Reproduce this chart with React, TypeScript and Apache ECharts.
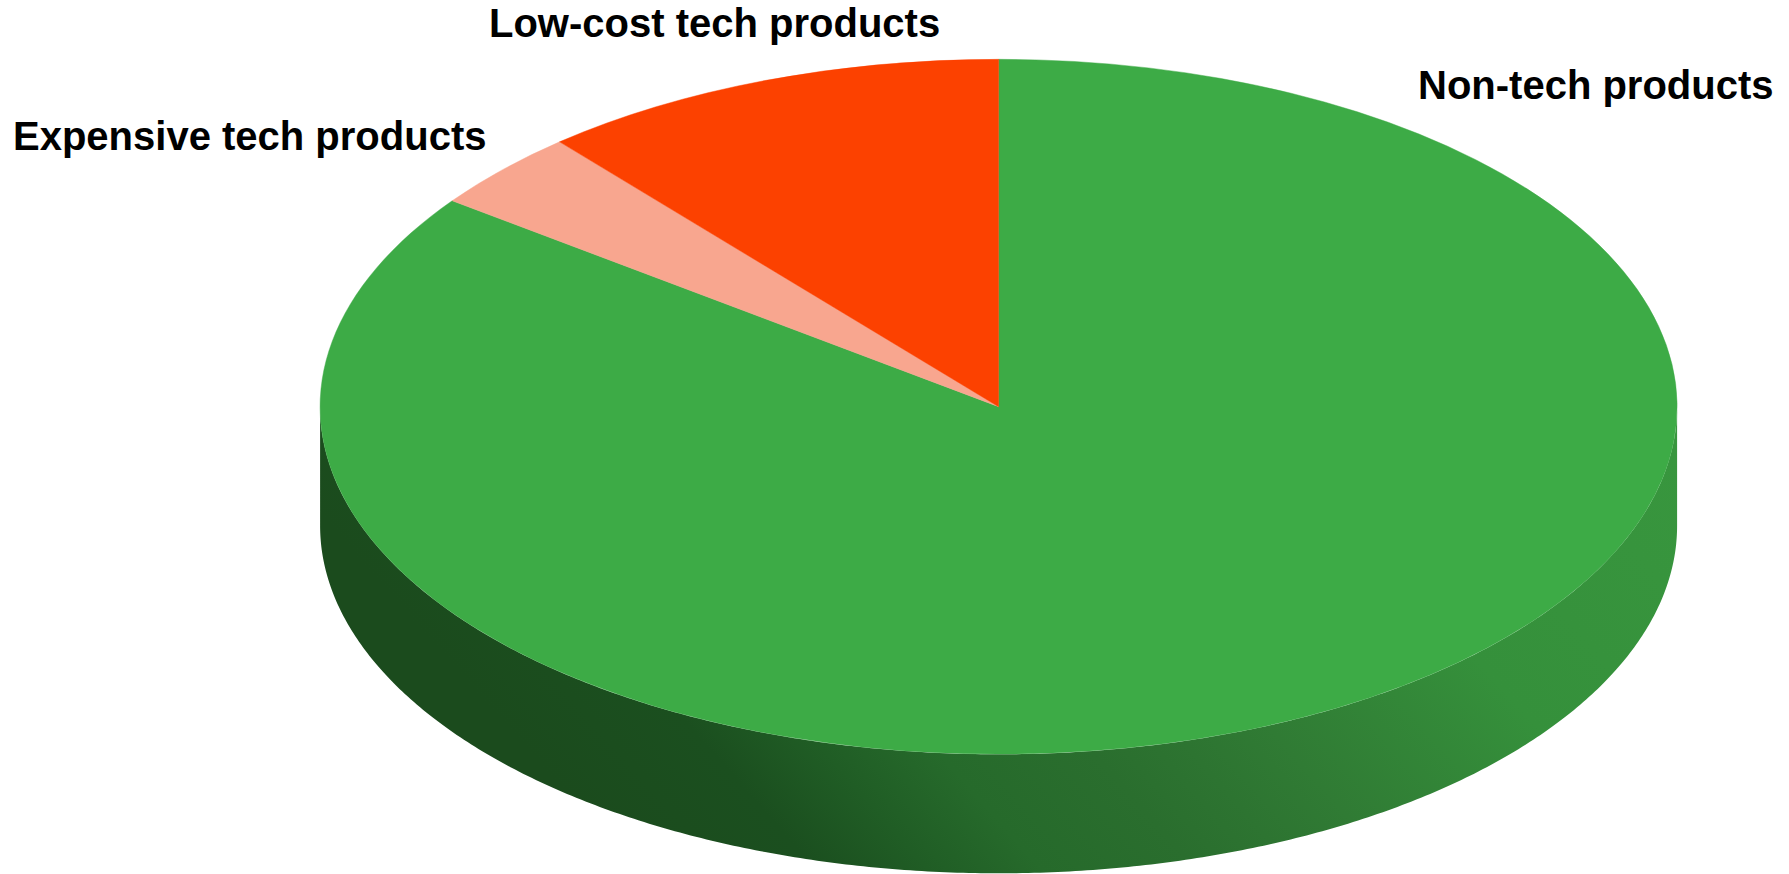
import React, { useEffect, useRef } from "react";
import * as echarts from "echarts";

const categories = ["Non-tech products", "Expensive tech products", "Low-cost tech products"];
const shares = [85.1, 3.7, 11.2];
const sliceColors = ["#3dab46", "#f8a68f", "#fc4100"];

const WIDTH = 1789;
const HEIGHT = 874;
const CX = 998.6;
const CY = 406.7;
const RX = 678.5;
const RY = 347.6;
const DEPTH = 119;
const labelLayout = [
  { x: 1418, y: 85 },
  { x: 13, y: 136 },
  { x: 489, y: 23 },
];

const wallGradient = () =>
  new echarts.graphic.LinearGradient(
    400,
    606,
    1195,
    -94,
    [
      { offset: 0, color: "#1b4b1d" },
      { offset: 0.13, color: "#1b4f1f" },
      { offset: 0.21, color: "#205d25" },
      { offset: 0.29, color: "#266a2b" },
      { offset: 0.4, color: "#2a6e2e" },
      { offset: 0.47, color: "#2d7431" },
      { offset: 0.54, color: "#307b34" },
      { offset: 0.73, color: "#35903b" },
      { offset: 1, color: "#38963e" },
    ],
    true,
  );

function wallPoints() {
  const pts: number[][] = [];
  for (let d = 0; d <= 180; d += 0.5) {
    const a = (d * Math.PI) / 180;
    pts.push([CX + RX * Math.cos(a), CY + RY * Math.sin(a)]);
  }
  for (let d = 180; d >= 0; d -= 0.5) {
    const a = (d * Math.PI) / 180;
    pts.push([CX + RX * Math.cos(a), CY + DEPTH + RY * Math.sin(a)]);
  }
  return pts;
}

export default function App() {
  const ref = useRef<HTMLDivElement>(null);
  useEffect(() => {
    document.body.style.margin = "0";
    const chart = echarts.init(ref.current!, null, { renderer: "svg" });
    const total = shares.reduce((a, b) => a + b, 0);
    chart.setOption({
      animation: false,
      backgroundColor: "#ffffff",
      series: [
        {
          type: "custom",
          coordinateSystem: "none",
          silent: true,
          data: shares.map((v, i) => ({ name: categories[i], value: v })),
          renderItem: (params: any, api: any) => {
            const i = params.dataIndex;
            const before = shares.slice(0, i).reduce((a, b) => a + b, 0);
            const start = -Math.PI / 2 + (before / total) * Math.PI * 2;
            const end = start + (api.value(0) / total) * Math.PI * 2;
            const children: any[] = [];
            if (i === 0) {
              children.push({
                type: "polygon",
                shape: { points: wallPoints() },
                style: { fill: wallGradient() },
              });
            }
            children.push({
              type: "sector",
              x: CX,
              y: CY,
              scaleX: 1,
              scaleY: RY / RX,
              shape: { cx: 0, cy: 0, r0: 0, r: RX, startAngle: start, endAngle: end, clockwise: true },
              style: { fill: sliceColors[i], stroke: sliceColors[i], lineWidth: 0.6 },
            });
            children.push({
              type: "text",
              x: labelLayout[i].x,
              y: labelLayout[i].y,
              style: {
                text: categories[i],
                fontFamily: "Liberation Sans",
                fontWeight: "bold",
                fontSize: 40,
                fill: "#000000",
                align: "left",
                verticalAlign: "middle",
              },
            });
            return { type: "group", children };
          },
        },
      ],
    });
    return () => chart.dispose();
  }, []);
  return <div ref={ref} style={{ position: "absolute", left: 0, top: 0, width: WIDTH, height: HEIGHT }} />;
}
